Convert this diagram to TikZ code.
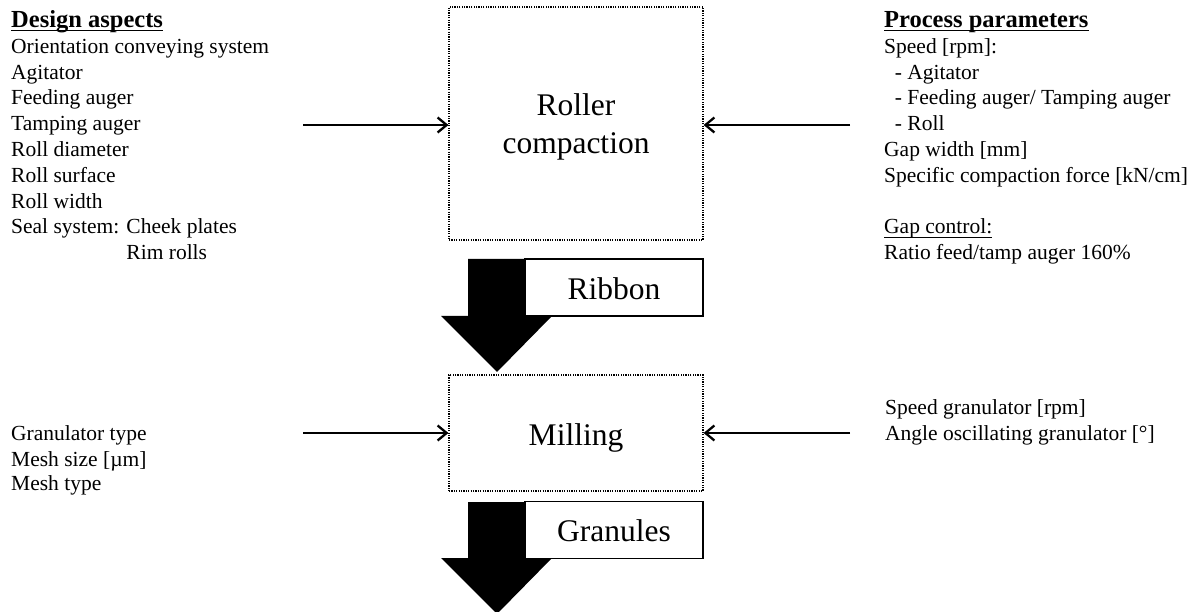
\documentclass[tikz,border=0pt]{standalone}
\usepackage{fontspec}
\setmainfont{Liberation Serif}
\usetikzlibrary{arrows.meta}
\newcommand\myul[1]{\setbox0\hbox{#1}\rlap{\rule[-4pt]{\wd0}{1.3pt}}\box0}
\begin{document}
\begin{tikzpicture}[x=1pt,y=-1pt,
  body/.style={font=\fontsize{21.5}{25.8}\selectfont, inner sep=0, anchor=base west},
  procbox/.style={draw, line width=1.2pt, dash pattern=on 1.2pt off 1.2pt, font=\fontsize{31.5}{38}\selectfont, inner sep=0, text depth=0pt},
  flow/.style={line width=2.3pt, -{Straight Barb[length=9pt,width=15pt,line width=2.3pt]}},
  blockarrow/.style={fill=black},
  labelbox/.style={draw, line width=1.3pt, fill=white, font=\fontsize{31.5}{38}\selectfont, minimum width=178pt, minimum height=57pt, inner sep=0, text height=23.2pt, text depth=0pt}]
\useasboundingbox (0,0) rectangle (1195,612);

% process boxes
\node[procbox, minimum width=254pt, minimum height=233pt, text height=61pt] (rc) at (576,123.5) {\begin{tabular}[b]{@{}c@{}}Roller\\compaction\end{tabular}};
\node[procbox, minimum width=254pt, minimum height=116pt, text height=25.4pt] (mill) at (576,433) {Milling};

% block arrows with labels
\fill[blockarrow] (468,259) -- (525,259) -- (525,316) -- (552,316) -- (497,372) -- (441,316) -- (468,316) -- cycle;
\node[labelbox] (ribbon) at (614,287.5) {Ribbon};
\fill[blockarrow] (468,502) -- (525,502) -- (525,558) -- (552,558) -- (497,614) -- (441,558) -- (468,558) -- cycle;
\node[labelbox] (gran) at (614,530) {Granules};

% text columns
\node[body] (design) at (11,27.5) {\begin{tabular}[t]{@{}l@{}}
{\fontsize{24.5}{25.8}\selectfont\bfseries\myul{Design aspects}}\\
Orientation conveying system\\
Agitator\\
Feeding auger\\
Tamping auger\\
Roll diameter\\
Roll surface\\
Roll width\\
Seal system: Cheek plates\\
\phantom{Seal system: }Rim rolls
\end{tabular}};

\node[body] (process) at (884,27.5) {\begin{tabular}[t]{@{}l@{}}
{\fontsize{24.5}{25.8}\selectfont\bfseries\myul{Process parameters}}\\
Speed [rpm]:\\
\hspace*{0.5em}- Agitator\\
\hspace*{0.5em}- Feeding auger/ Tamping auger\\
\hspace*{0.5em}- Roll\\
Gap width [mm]\\
Specific compaction force [kN/cm]\\
\\
\myul{Gap control:}\\
Ratio feed/tamp auger 160\%
\end{tabular}};

\node[body, font=\fontsize{21.5}{25}\selectfont] (mdesign) at (11,441) {\begin{tabular}[t]{@{}l@{}}
Granulator type\\
Mesh size [µm]\\
Mesh type
\end{tabular}};

\node[body, font=\fontsize{21.5}{26}\selectfont] (mprocess) at (885,414) {\begin{tabular}[t]{@{}l@{}}
Speed granulator [rpm]\\
Angle oscillating granulator [°]
\end{tabular}};

% input arrows
\coordinate (inL1) at (303,125);
\coordinate (inR1) at (850,125);
\coordinate (inL2) at (303,433);
\coordinate (inR2) at (850,433);
\draw[flow] (inL1) -- (inL1 -| rc.west);
\draw[flow] (inR1) -- (inR1 -| rc.east);
\draw[flow] (inL2) -- (inL2 -| mill.west);
\draw[flow] (inR2) -- (inR2 -| mill.east);
\end{tikzpicture}
\end{document}
